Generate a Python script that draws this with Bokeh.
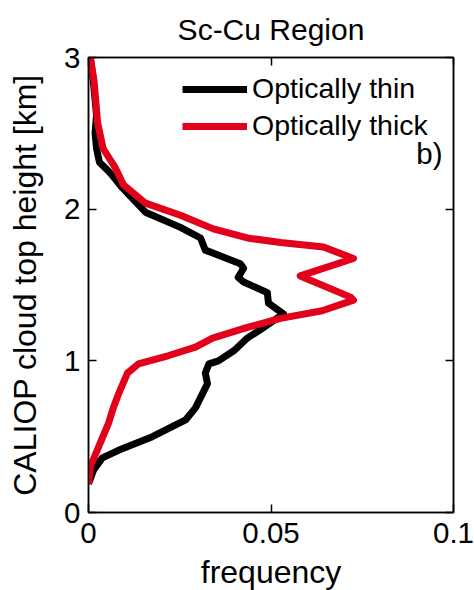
from bokeh.plotting import figure
from bokeh.models import Range1d, LinearAxis, FixedTicker, Legend, LegendItem, Label, CustomJSTickFormatter
from bokeh.embed import file_html
from bokeh.resources import INLINE

# Optically thin (black)
thin_height = [3.0, 2.85, 2.62, 2.5, 2.4, 2.31, 2.25, 2.22, 2.14, 1.98, 1.88, 1.81, 1.73, 1.64, 1.61,
               1.55, 1.52, 1.45, 1.38, 1.31, 1.22, 1.15, 1.07, 1.0, 0.98, 0.92, 0.85, 0.69, 0.61,
               0.50, 0.41, 0.36, 0.28, 0.19]
thin_freq = [0.0005, 0.0013, 0.0022, 0.0018, 0.0022, 0.003, 0.0055, 0.0066, 0.0093, 0.0156, 0.0252,
             0.0307, 0.032, 0.0416, 0.0425, 0.041, 0.0425, 0.049, 0.0493, 0.0534, 0.048, 0.0435,
             0.040, 0.0356, 0.033, 0.032, 0.0326, 0.0293, 0.0266, 0.0175, 0.0082, 0.0038, 0.0014, 0.0]

# Optically thick (red)
thick_height = [3.0, 2.85, 2.57, 2.40, 2.27, 2.16, 2.04, 1.96, 1.87, 1.81, 1.78, 1.75, 1.675, 1.56,
                1.42, 1.40, 1.33, 1.28, 1.22, 1.15, 1.09, 1.035, 0.98, 0.92, 0.78, 0.69, 0.59,
                0.43, 0.30, 0.19]
thick_freq = [0.0005, 0.0015, 0.0025, 0.004, 0.0074, 0.0096, 0.0156, 0.0252, 0.0342, 0.0435, 0.0526,
              0.0644, 0.0726, 0.058, 0.0718, 0.0726, 0.064, 0.0526, 0.0435, 0.034, 0.0293, 0.022,
              0.0137, 0.0107, 0.0082, 0.0068, 0.0055, 0.0027, 0.0005, 0.0]

x_ticks = [0, 0.05, 0.1]
x_tick_labels = {0: "0", 0.05: "0.05", 0.1: "0.1"}
y_ticks = [0, 1, 2, 3]

FONT = "Liberation Sans"
FS = "29.5px"
RED = "#e2001a"

p = figure(frame_width=365, frame_height=455, output_backend="svg", toolbar_location=None,
           x_range=Range1d(0, 0.1), y_range=Range1d(0, 3),
           min_border_left=88, min_border_right=21, min_border_top=57, min_border_bottom=70,
           title="Sc-Cu Region")
p.title.text_font = FONT
p.title.text_font_size = "30px"
p.title.text_font_style = "normal"
p.title.text_color = "black"
p.title.align = "center"
p.title.vertical_align = "middle"
p.title.text_line_height = 1.0
p.title.standoff = 22

p.xgrid.visible = False
p.ygrid.visible = False
p.outline_line_color = "black"
p.outline_line_width = 1.5

for ax in p.xaxis:
    ax.ticker = FixedTicker(ticks=x_ticks)
    ax.major_label_overrides = x_tick_labels
    ax.axis_label = "frequency"
    ax.major_label_standoff = 10
    ax.axis_label_standoff = 8
for ax in p.yaxis:
    ax.ticker = FixedTicker(ticks=y_ticks)
    ax.axis_label = "CALIOP cloud top height [km]"
    ax.major_label_standoff = 8
    ax.axis_label_standoff = 18

for ax in list(p.xaxis) + list(p.yaxis):
    ax.major_tick_in = 8
    ax.major_tick_out = 0
    ax.minor_tick_line_color = None
    ax.axis_line_width = 1.5
    ax.major_tick_line_width = 1.5
    ax.major_label_text_font = FONT
    ax.major_label_text_font_size = FS
    ax.major_label_text_color = "black"
    ax.axis_label_text_font = FONT
    ax.axis_label_text_font_size = "32px"
    ax.axis_label_text_font_style = "normal"
    ax.axis_label_text_color = "black"

blank = CustomJSTickFormatter(code="return ''")
top = LinearAxis(ticker=FixedTicker(ticks=x_ticks), formatter=blank, major_tick_in=8, major_tick_out=0,
                 minor_tick_line_color=None, major_label_standoff=0, major_label_text_font_size="2px",
                 axis_line_width=1.5, major_tick_line_width=1.5)
right = LinearAxis(ticker=FixedTicker(ticks=y_ticks), formatter=blank, major_tick_in=8, major_tick_out=0,
                   minor_tick_line_color=None, major_label_standoff=0, major_label_text_font_size="2px",
                   axis_line_width=1.5, major_tick_line_width=1.5)
p.add_layout(top, "above")
p.add_layout(right, "right")

r_thin = p.line(thin_freq, thin_height, line_color="black", line_width=7, line_join="round")
r_thick = p.line(thick_freq, thick_height, line_color=RED, line_width=7, line_join="round")

legend = Legend(items=[LegendItem(label="Optically thin", renderers=[r_thin]),
                       LegendItem(label="Optically thick", renderers=[r_thick])],
                location=(94, 370), glyph_width=65, glyph_height=28, label_height=28,
                label_standoff=5, spacing=4, padding=0, margin=0,
                border_line_color=None, background_fill_alpha=0,
                label_text_font=FONT, label_text_font_size="28.5px", label_text_color="black")
p.add_layout(legend, "center")

p.add_layout(Label(x=0.097, y=2.37, text="b)", text_align="right", text_baseline="middle",
                   text_font=FONT, text_font_size=FS, text_color="black"))

open("out.html", "w").write(file_html(p, INLINE))
